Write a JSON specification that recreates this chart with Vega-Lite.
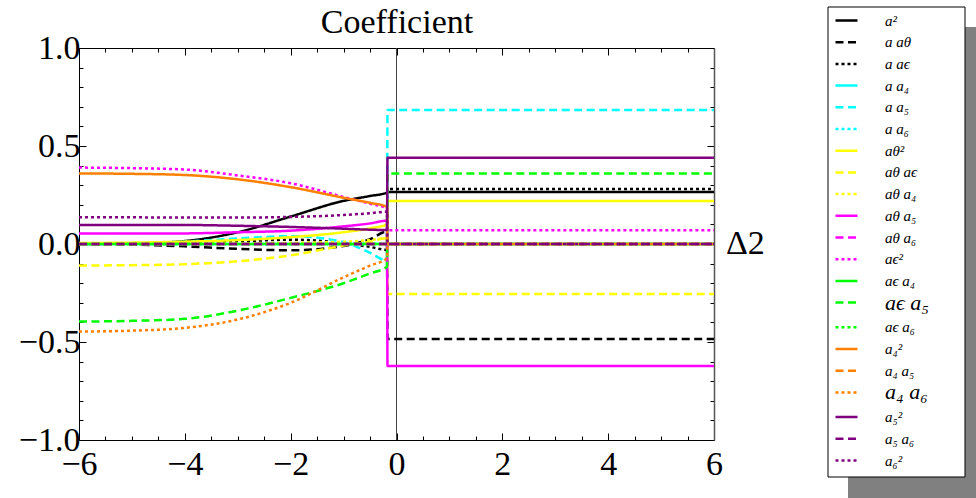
{
"$schema": "https://vega.github.io/schema/vega-lite/v6.json",
"width": 635, "height": 392,
"autosize": {"type": "none"},
"padding": {"left": 79, "top": 48, "right": 262, "bottom": 58},
"background": "white",
"config": {"view": {"stroke": null}, "font": "Liberation Serif"},
"data": {"values": [
{"s":"a²","x":-6,"y":0},{"s":"a²","x":-5,"y":0.002},{"s":"a²","x":-4,"y":0.015},{"s":"a²","x":-3,"y":0.06},{"s":"a²","x":-2,"y":0.14},{"s":"a²","x":-1,"y":0.22},{"s":"a²","x":-0.5,"y":0.245},{"s":"a²","x":-0.18,"y":0.262},{"s":"a²","x":-0.17,"y":0.265},{"s":"a²","x":6,"y":0.265},
{"s":"a aθ","x":-6,"y":0},{"s":"a aθ","x":-5,"y":-0.003},{"s":"a aθ","x":-4,"y":-0.012},{"s":"a aθ","x":-3,"y":-0.025},{"s":"a aθ","x":-2,"y":-0.032},{"s":"a aθ","x":-1,"y":-0.01},{"s":"a aθ","x":-0.5,"y":0.025},{"s":"a aθ","x":-0.18,"y":0.063},{"s":"a aθ","x":-0.17,"y":-0.485},{"s":"a aθ","x":6,"y":-0.485},
{"s":"a aϵ","x":-6,"y":0},{"s":"a aϵ","x":-5,"y":0.002},{"s":"a aϵ","x":-4,"y":0.006},{"s":"a aϵ","x":-3,"y":0.013},{"s":"a aϵ","x":-2,"y":0.022},{"s":"a aϵ","x":-1,"y":0.005},{"s":"a aϵ","x":-0.5,"y":-0.015},{"s":"a aϵ","x":-0.18,"y":-0.03},{"s":"a aϵ","x":-0.17,"y":0.28},{"s":"a aϵ","x":6,"y":0.28},
{"s":"a a₄","x":-6,"y":0},{"s":"a a₄","x":6,"y":0},
{"s":"a a₅","x":-6,"y":0},{"s":"a a₅","x":-5,"y":0.003},{"s":"a a₅","x":-4,"y":0.012},{"s":"a a₅","x":-3,"y":0.028},{"s":"a a₅","x":-2,"y":0.04},{"s":"a a₅","x":-1,"y":0.01},{"s":"a a₅","x":-0.5,"y":-0.045},{"s":"a a₅","x":-0.18,"y":-0.085},{"s":"a a₅","x":-0.17,"y":0.684},{"s":"a a₅","x":6,"y":0.684},
{"s":"a a₆","x":-6,"y":0},{"s":"a a₆","x":6,"y":0},
{"s":"aθ²","x":-6,"y":0.005},{"s":"aθ²","x":-5,"y":0.007},{"s":"aθ²","x":-4,"y":0.012},{"s":"aθ²","x":-3,"y":0.02},{"s":"aθ²","x":-2,"y":0.035},{"s":"aθ²","x":-1,"y":0.06},{"s":"aθ²","x":-0.5,"y":0.08},{"s":"aθ²","x":-0.18,"y":0.1},{"s":"aθ²","x":-0.17,"y":0.22},{"s":"aθ²","x":6,"y":0.22},
{"s":"aθ aϵ","x":-6,"y":-0.11},{"s":"aθ aϵ","x":-5,"y":-0.108},{"s":"aθ aϵ","x":-4,"y":-0.103},{"s":"aθ aϵ","x":-3,"y":-0.088},{"s":"aθ aϵ","x":-2,"y":-0.058},{"s":"aθ aϵ","x":-1,"y":-0.008},{"s":"aθ aϵ","x":-0.5,"y":0.012},{"s":"aθ aϵ","x":-0.18,"y":0.03},{"s":"aθ aϵ","x":-0.17,"y":-0.255},{"s":"aθ aϵ","x":6,"y":-0.255},
{"s":"aθ a₄","x":-6,"y":0},{"s":"aθ a₄","x":-5,"y":0},{"s":"aθ a₄","x":-4,"y":0.001},{"s":"aθ a₄","x":-3,"y":0.003},{"s":"aθ a₄","x":-2,"y":0.006},{"s":"aθ a₄","x":-1,"y":0.012},{"s":"aθ a₄","x":-0.5,"y":0.02},{"s":"aθ a₄","x":-0.18,"y":0.03},{"s":"aθ a₄","x":-0.17,"y":0},{"s":"aθ a₄","x":6,"y":0},
{"s":"aθ a₅","x":-6,"y":0.053},{"s":"aθ a₅","x":-5,"y":0.053},{"s":"aθ a₅","x":-4,"y":0.054},{"s":"aθ a₅","x":-3,"y":0.06},{"s":"aθ a₅","x":-2,"y":0.068},{"s":"aθ a₅","x":-1,"y":0.09},{"s":"aθ a₅","x":-0.5,"y":0.105},{"s":"aθ a₅","x":-0.18,"y":0.119},{"s":"aθ a₅","x":-0.17,"y":-0.622},{"s":"aθ a₅","x":6,"y":-0.622},
{"s":"aθ a₆","x":-6,"y":0},{"s":"aθ a₆","x":6,"y":0},
{"s":"aϵ²","x":-6,"y":0.39},{"s":"aϵ²","x":-5,"y":0.387},{"s":"aϵ²","x":-4,"y":0.38},{"s":"aϵ²","x":-3,"y":0.35},{"s":"aϵ²","x":-2,"y":0.31},{"s":"aϵ²","x":-1,"y":0.24},{"s":"aϵ²","x":-0.5,"y":0.205},{"s":"aϵ²","x":-0.18,"y":0.182},{"s":"aϵ²","x":-0.17,"y":0.07},{"s":"aϵ²","x":6,"y":0.07},
{"s":"aϵ a₄","x":-6,"y":0},{"s":"aϵ a₄","x":6,"y":0},
{"s":"aϵ a₅","x":-6,"y":-0.396},{"s":"aϵ a₅","x":-5,"y":-0.392},{"s":"aϵ a₅","x":-4,"y":-0.382},{"s":"aϵ a₅","x":-3,"y":-0.34},{"s":"aϵ a₅","x":-2,"y":-0.275},{"s":"aϵ a₅","x":-1,"y":-0.2},{"s":"aϵ a₅","x":-0.5,"y":-0.15},{"s":"aϵ a₅","x":-0.18,"y":-0.116},{"s":"aϵ a₅","x":-0.17,"y":0.36},{"s":"aϵ a₅","x":6,"y":0.36},
{"s":"aϵ a₆","x":-6,"y":0},{"s":"aϵ a₆","x":6,"y":0},
{"s":"a₄²","x":-6,"y":0.36},{"s":"a₄²","x":-5,"y":0.358},{"s":"a₄²","x":-4,"y":0.352},{"s":"a₄²","x":-3,"y":0.33},{"s":"a₄²","x":-2,"y":0.29},{"s":"a₄²","x":-1,"y":0.236},{"s":"a₄²","x":-0.5,"y":0.21},{"s":"a₄²","x":-0.18,"y":0.19},{"s":"a₄²","x":-0.17,"y":0},{"s":"a₄²","x":6,"y":0},
{"s":"a₄ a₅","x":-6,"y":0},{"s":"a₄ a₅","x":6,"y":0},
{"s":"a₄ a₆","x":-6,"y":-0.447},{"s":"a₄ a₆","x":-5,"y":-0.442},{"s":"a₄ a₆","x":-4,"y":-0.428},{"s":"a₄ a₆","x":-3,"y":-0.385},{"s":"a₄ a₆","x":-2,"y":-0.3},{"s":"a₄ a₆","x":-1,"y":-0.17},{"s":"a₄ a₆","x":-0.5,"y":-0.11},{"s":"a₄ a₆","x":-0.18,"y":-0.073},{"s":"a₄ a₆","x":-0.17,"y":0},{"s":"a₄ a₆","x":6,"y":0},
{"s":"a₅²","x":-6,"y":0.097},{"s":"a₅²","x":-5,"y":0.097},{"s":"a₅²","x":-4,"y":0.097},{"s":"a₅²","x":-3,"y":0.093},{"s":"a₅²","x":-2,"y":0.087},{"s":"a₅²","x":-1,"y":0.078},{"s":"a₅²","x":-0.5,"y":0.073},{"s":"a₅²","x":-0.18,"y":0.071},{"s":"a₅²","x":-0.17,"y":0.44},{"s":"a₅²","x":6,"y":0.44},
{"s":"a₅ a₆","x":-6,"y":0},{"s":"a₅ a₆","x":6,"y":0},
{"s":"a₆²","x":-6,"y":0.136},{"s":"a₆²","x":-5,"y":0.136},{"s":"a₆²","x":-4,"y":0.135},{"s":"a₆²","x":-3,"y":0.135},{"s":"a₆²","x":-2,"y":0.138},{"s":"a₆²","x":-1,"y":0.148},{"s":"a₆²","x":-0.5,"y":0.157},{"s":"a₆²","x":-0.18,"y":0.165},{"s":"a₆²","x":-0.17,"y":0},{"s":"a₆²","x":6,"y":0}
]},
"layer": [
{
 "data": {"values": [{"x": 0}]},
 "mark": {"type": "rule", "color": "#444444", "strokeWidth": 1},
 "encoding": {"x": {"field": "x", "type": "quantitative", "axis": null}}
},
{
 "mark": {"type": "line", "strokeWidth": 2.5, "clip": true, "interpolate": "monotone"},
 "encoding": {
  "x": {"field": "x", "type": "quantitative", "scale": {"domain": [-6, 6], "nice": false, "zero": false},
   "axis": {"orient": "bottom", "title": null, "grid": false,
    "values": [-6,-5.5,-5,-4.5,-4,-3.5,-3,-2.5,-2,-1.5,-1,-0.5,0,0.5,1,1.5,2,2.5,3,3.5,4,4.5,5,5.5,6],
    "labelExpr": "datum.value % 2 === 0 ? replace(format(datum.value, 'd'), '-', '−') : ''",
    "labelFontSize": 34, "labelFont": "Liberation Serif", "labelColor": "black", "labelPadding": 14,
    "labelOverlap": false, "labelFlush": false, "labelBound": false,
    "tickColor": "black", "domainColor": "black", "domainWidth": 1, "tickWidth": 1,
    "tickSize": {"condition": {"test": "datum.value % 2 === 0", "value": -7}, "value": -4}}},
  "y": {"field": "y", "type": "quantitative", "scale": {"domain": [-1, 1], "nice": false},
   "axis": {"orient": "left", "title": null, "grid": false,
    "values": [-1,-0.9,-0.8,-0.7,-0.6,-0.5,-0.4,-0.3,-0.2,-0.1,0,0.1,0.2,0.3,0.4,0.5,0.6,0.7,0.8,0.9,1],
    "labelExpr": "abs(datum.value*2 - round(datum.value*2)) < 0.000001 ? replace(format(datum.value, '.1f'), '-', '−') : ''",
    "labelFontSize": 34, "labelFont": "Liberation Serif", "labelColor": "black", "labelPadding": 6,
    "labelOverlap": false, "labelFlush": false, "labelBound": false,
    "tickColor": "black", "domainColor": "black", "domainWidth": 1, "tickWidth": 1,
    "tickSize": {"condition": {"test": "abs(datum.value*2 - round(datum.value*2)) < 0.000001", "value": -7}, "value": -4}}},
  "color": {"field": "s", "type": "nominal",
   "scale": {"domain": ["a²","a aθ","a aϵ","a a₄","a a₅","a a₆","aθ²","aθ aϵ","aθ a₄","aθ a₅","aθ a₆","aϵ²","aϵ a₄","aϵ a₅","aϵ a₆","a₄²","a₄ a₅","a₄ a₆","a₅²","a₅ a₆","a₆²"],
    "range": ["#000000","#000000","#000000","#00FFFF","#00FFFF","#00FFFF","#FFFF00","#FFFF00","#FFFF00","#FF00FF","#FF00FF","#FF00FF","#00FF00","#00FF00","#00FF00","#FF8000","#FF8000","#FF8000","#800080","#800080","#800080"]},
   "legend": {"orient": "none", "legendX": 755, "legendY": -40, "direction": "vertical", "title": null,
    "symbolType": "stroke", "symbolSize": 484, "symbolStrokeWidth": 2.5,
    "labelFont": "Liberation Serif", "labelFontStyle": "italic", "labelFontSize": 15, "labelColor": "black",
    "labelOffset": 26, "rowPadding": 0.7, "padding": 0, "zindex": 2,
    "encode": {"labels": {"update": {"fontSize": {"signal": "(datum.value === 'aϵ a₅' || datum.value === 'a₄ a₆') ? 22 : 15"}}}}}},
  "strokeDash": {"field": "s", "type": "nominal",
   "scale": {"domain": ["a²","a aθ","a aϵ","a a₄","a a₅","a a₆","aθ²","aθ aϵ","aθ a₄","aθ a₅","aθ a₆","aϵ²","aϵ a₄","aϵ a₅","aϵ a₆","a₄²","a₄ a₅","a₄ a₆","a₅²","a₅ a₆","a₆²"],
    "range": [[1,0],[8,4.5],[3,3],[1,0],[8,4.5],[3,3],[1,0],[8,4.5],[3,3],[1,0],[8,4.5],[3,3],[1,0],[8,4.5],[3,3],[1,0],[8,4.5],[3,3],[1,0],[8,4.5],[3,3]]},
   "legend": {"orient": "none", "legendX": 755, "legendY": -40, "direction": "vertical", "title": null,
    "symbolType": "stroke", "symbolSize": 484, "symbolStrokeWidth": 2.5,
    "labelFont": "Liberation Serif", "labelFontStyle": "italic", "labelFontSize": 15, "labelColor": "black",
    "labelOffset": 26, "rowPadding": 0.7, "padding": 0, "zindex": 2,
    "encode": {"labels": {"update": {"fontSize": {"signal": "(datum.value === 'aϵ a₅' || datum.value === 'a₄ a₆') ? 22 : 15"}}}}}}
 }
},
{
 "data": {"values": [{"x": 6, "y": 0, "t": "Δ2"}]},
 "mark": {"type": "text", "align": "left", "baseline": "middle", "dx": 12, "fontSize": 34, "font": "Liberation Serif", "color": "black"},
 "encoding": {"x": {"field": "x", "type": "quantitative", "axis": null}, "y": {"field": "y", "type": "quantitative", "axis": null}, "text": {"field": "t"}}
},
{
 "mark": {"type": "point", "opacity": 0, "filled": true},
 "encoding": {
  "x": {"field": "x", "type": "quantitative",
   "axis": {"orient": "top", "title": "Coefficient", "titleFont": "Liberation Serif", "titleFontSize": 34, "titleFontWeight": "normal", "titleColor": "black", "titlePadding": 8,
    "grid": false, "labels": false,
    "values": [-6,-5.5,-5,-4.5,-4,-3.5,-3,-2.5,-2,-1.5,-1,-0.5,0,0.5,1,1.5,2,2.5,3,3.5,4,4.5,5,5.5,6],
    "tickColor": "black", "domainColor": "black", "domainWidth": 1, "tickWidth": 1,
    "tickSize": {"condition": {"test": "datum.value % 2 === 0", "value": -7}, "value": -4}}},
  "y": {"field": "y", "type": "quantitative",
   "axis": {"orient": "right", "title": null, "grid": false, "labels": false,
    "values": [-1,-0.9,-0.8,-0.7,-0.6,-0.5,-0.4,-0.3,-0.2,-0.1,0,0.1,0.2,0.3,0.4,0.5,0.6,0.7,0.8,0.9,1],
    "tickColor": "black", "domainColor": "#555555", "domainWidth": 1.5, "tickWidth": 1,
    "tickSize": {"condition": {"test": "abs(datum.value*2 - round(datum.value*2)) < 0.000001", "value": -7}, "value": -4}}},
  "fill": {"field": "y", "type": "quantitative", "scale": {"range": ["#808080", "#808080"]},
   "legend": {"orient": "none", "legendX": 769, "legendY": -21, "direction": "vertical", "title": null,
    "gradientLength": 480, "gradientThickness": 140, "gradientStrokeWidth": 0, "labelExpr": "''", "padding": 0, "zindex": 0}}
 }
},
{
 "mark": {"type": "point", "opacity": 0},
 "encoding": {
  "x": {"field": "x", "type": "quantitative", "axis": null},
  "y": {"field": "y", "type": "quantitative", "axis": null},
  "stroke": {"field": "x", "type": "quantitative", "scale": {"range": ["#FFFFFF", "#FFFFFF"]},
   "legend": {"orient": "none", "legendX": 749, "legendY": -41, "direction": "vertical", "title": null,
    "gradientLength": 470, "gradientThickness": 137, "gradientStrokeWidth": 1, "gradientStrokeColor": "black", "labelExpr": "''", "padding": 0, "zindex": 1}}
 }
}
],
"resolve": {"axis": {"x": "independent", "y": "independent"}}
}
